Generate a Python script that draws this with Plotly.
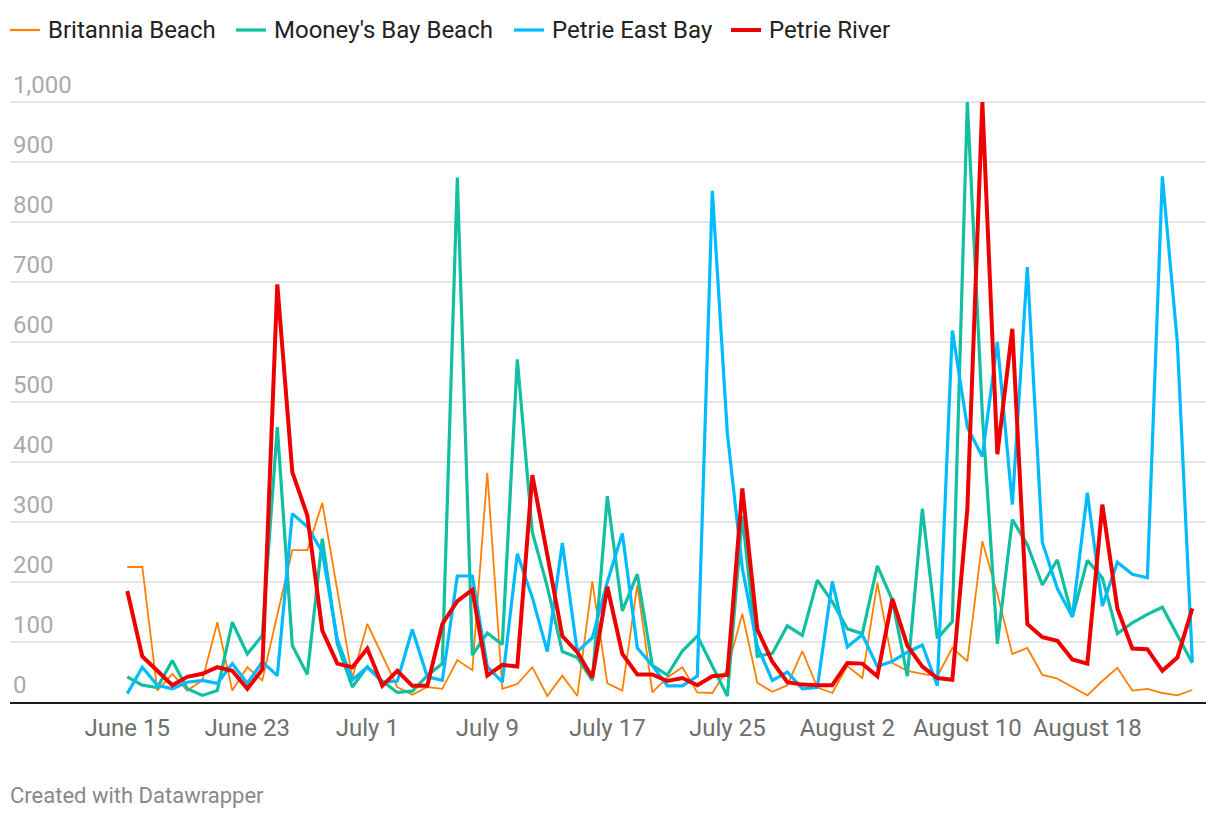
import pandas as pd
import plotly.graph_objects as go

# ---- data (daily readings, June 15 - August 25) ----
start_date = "2019-06-15"
n_days = 72

britannia = [225, 225, 19, 47, 19, 36, 133, 19, 58, 36,
             145, 253, 253, 332, 186, 40, 130, 77, 25, 12,
             25, 22, 70, 53, 382, 22, 30, 58, 10, 44,
             10, 201, 31, 19, 195, 16, 41, 58, 16, 15,
             55, 147, 32, 17, 28, 85, 24, 15, 60, 40,
             199, 65, 52, 47, 43, 90, 68, 268, 180, 80,
             90, 45, 39, 25, 11, 35, 57, 19, 22, 15,
             11, 20]

mooneys = [42, 28, 24, 69, 22, 11, 19, 133, 80, 111,
           458, 94, 46, 272, 97, 25, 59, 35, 16, 18,
           44, 64, 874, 78, 115, 96, 571, 283, 192, 84,
           74, 36, 343, 152, 213, 61, 45, 85, 110, 60,
           10, 310, 76, 81, 127, 111, 203, 167, 122, 114,
           227, 170, 43, 322, 106, 134, 1000, 480, 97, 304,
           262, 195, 237, 142, 236, 207, 114, 132, 146, 158,
           111, 65]

petrie_east = [14, 58, 28, 22, 33, 36, 31, 64, 31, 67,
               44, 314, 292, 250, 104, 37, 58, 33, 35, 121,
               42, 36, 210, 210, 59, 33, 247, 174, 84, 265,
               84, 107, 200, 281, 90, 61, 27, 27, 43, 852,
               448, 223, 93, 36, 50, 22, 24, 201, 92, 112,
               59, 68, 83, 95, 27, 619, 458, 409, 600, 329,
               725, 266, 189, 142, 349, 160, 233, 213, 207, 876,
               599, 67]

petrie_river = [185, 76, 52, 28, 42, 47, 58, 52, 22, 54,
                696, 383, 311, 119, 64, 58, 89, 27, 52, 27,
                27, 130, 168, 187, 44, 62, 59, 378, 245, 110,
                83, 41, 192, 80, 46, 46, 35, 40, 28, 43,
                45, 356, 121, 67, 33, 29, 28, 28, 65, 64,
                43, 172, 94, 59, 40, 37, 322, 1000, 413, 622,
                130, 108, 102, 71, 64, 329, 156, 89, 88, 52,
                74, 156]

series_names = ["Britannia Beach", "Mooney's Bay Beach", "Petrie East Bay", "Petrie River"]

x_tick_dates = ["2019-06-15", "2019-06-23", "2019-07-01", "2019-07-09", "2019-07-17",
                "2019-07-25", "2019-08-02", "2019-08-10", "2019-08-18"]
x_tick_labels = ["June 15", "June 23", "July 1", "July 9", "July 17",
                 "July 25", "August 2", "August 10", "August 18"]

y_tick_vals = [0, 100, 200, 300, 400, 500, 600, 700, 800, 900, 1000]
y_tick_labels = ["0", "100", "200", "300", "400", "500", "600", "700", "800", "900", "1,000"]

# ---- styling ----
colors = ["#ff8000", "#12bfa0", "#00bbff", "#ee0000"]
widths = [1.8, 3.2, 3.2, 4.0]

dates = pd.date_range(start_date, periods=n_days, freq="D")
values = [britannia, mooneys, petrie_east, petrie_river]

fig = go.Figure()
for name, vals, c, w in zip(series_names, values, colors, widths):
    fig.add_trace(go.Scatter(x=dates, y=vals, mode="lines", name=name,
                             line=dict(color=c, width=w), showlegend=False))

# page has an 8px body margin; figure size/coords compensate for it
OFF = 8
W, H = 1220 - OFF, 818 - OFF
ML, MR, MT, MB = 10 - OFF, 14, 72 - OFF, 116
pw = W - ML - MR
ph = H - MT - MB

def px_x(px):  # page px -> paper
    return (px - OFF - ML) / pw

def px_y(py):  # page px -> paper
    return (H - MB - (py - OFF)) / ph

t0 = pd.Timestamp(start_date)
x_range = [t0 - pd.Timedelta(days=7.82), t0 + pd.Timedelta(days=71.91)]

fig.update_layout(
    width=W, height=H,
    margin=dict(l=ML, r=MR, t=MT, b=MB, pad=0),
    paper_bgcolor="white", plot_bgcolor="white",
    font=dict(family="Roboto", color="#333"),
    showlegend=False,
    xaxis=dict(
        type="date", range=x_range,
        tickmode="array", tickvals=x_tick_dates, ticktext=x_tick_labels,
        showgrid=False, zeroline=False,
        showline=True, linecolor="#1a1a1a", linewidth=2,
        ticks="", ticklabelstandoff=3,
        tickfont=dict(family="Roboto", size=24, color="#6e6e6e"),
        fixedrange=True,
    ),
    yaxis=dict(
        range=[0, 1050],
        tickmode="array", tickvals=y_tick_vals, ticktext=y_tick_labels,
        showgrid=True, gridcolor="#e6e6e6", gridwidth=2,
        zeroline=False, showline=False, ticks="",
        ticklabelposition="inside top", ticklabeloverflow="allow",
        ticklabelshift=-1,
        tickfont=dict(family="Roboto", size=24, color="#aaaaaa"),
        fixedrange=True,
    ),
)

# legend drawn manually (Datawrapper style)
legend_line_x = [10, 236, 514, 731]
legend_y = 30
for name, c, w, lx in zip(series_names, colors, widths, legend_line_x):
    fig.add_shape(type="line", xref="paper", yref="paper",
                  x0=px_x(lx), x1=px_x(lx + 30), y0=px_y(legend_y), y1=px_y(legend_y),
                  line=dict(color=c, width=max(w, 2.2)))
    fig.add_annotation(xref="paper", yref="paper", x=px_x(lx + 36), y=px_y(legend_y),
                       text=name, showarrow=False, xanchor="left", yanchor="middle",
                       font=dict(family="Roboto", size=24, color="#222222"))

fig.add_annotation(xref="paper", yref="paper", x=px_x(8), y=px_y(795),
                   text="Created with Datawrapper", showarrow=False,
                   xanchor="left", yanchor="middle",
                   font=dict(family="Roboto", size=22, color="#888888"))

fig.write_html("out.html")
